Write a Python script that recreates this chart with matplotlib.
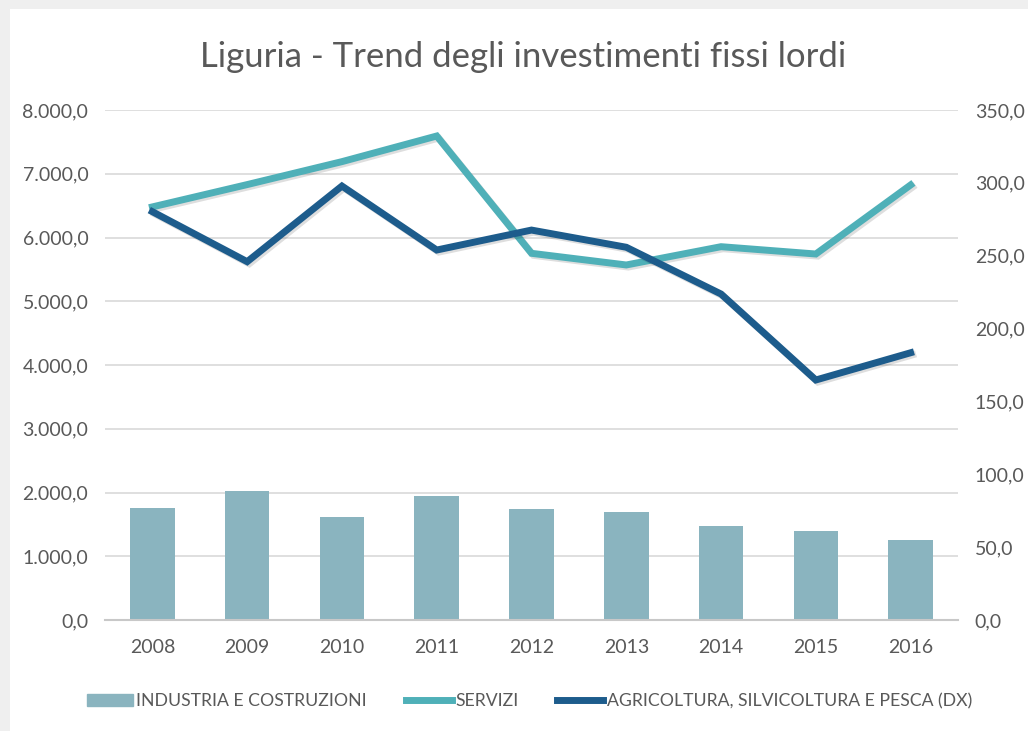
import numpy as np
import matplotlib.pyplot as plt
import matplotlib.patheffects as pe
from matplotlib.patches import Rectangle
from matplotlib.lines import Line2D
from matplotlib.ticker import FuncFormatter

plt.rcParams['font.family'] = ['Lato', 'DejaVu Sans']

# dati
anni = ['2008', '2009', '2010', '2011', '2012', '2013', '2014', '2015', '2016']
industria = [1762, 2028, 1611, 1950, 1736, 1689, 1469, 1396, 1255]
servizi = [6480, 6830, 7190, 7592, 5752, 5569, 5856, 5741, 6824]
agricoltura = [280.2, 245.9, 297.8, 253.9, 267.6, 255.8, 223.7, 164.7, 183.4]

col_bar = '#8AB4BF'
col_serv = '#4FB0B8'
col_agri = '#1D5C8C'
col_txt = '#595959'
col_grid = '#D9D9D9'


def fmt_it(v, pos=None):
    # 8000 -> "8.000,0"
    s = f"{v:,.1f}"
    return s.replace(',', 'X').replace('.', ',').replace('X', '.')


fig = plt.figure(figsize=(10.28, 7.31), dpi=100)
fig.patch.set_facecolor('#EFEFEF')
# pannello bianco del grafico
fig.patches.append(Rectangle((10 / 1028, 0), 1, 1 - 9 / 731,
                             transform=fig.transFigure, facecolor='white',
                             edgecolor='none', zorder=-10))

ax = fig.add_axes([105 / 1028, 1 - 620 / 731, (958 - 105) / 1028, 510 / 731])
ax.set_facecolor('none')
x = np.arange(len(anni))

ax.bar(x, industria, width=0.47, color=col_bar, zorder=2)
shadow = [pe.SimpleLineShadow(offset=(1.5, -1.5), alpha=0.13), pe.Normal()]
ax.plot(x, servizi, color=col_serv, lw=5, solid_joinstyle='miter',
        zorder=3, path_effects=shadow)

ax.set_xlim(-0.5, len(anni) - 0.5)
ax.set_ylim(0, 8000)
ax.set_yticks(np.arange(0, 8001, 1000))
ax.yaxis.set_major_formatter(FuncFormatter(fmt_it))
ax.set_xticks(x)
ax.set_xticklabels(anni)
ax.grid(axis='y', color=col_grid, lw=1.2, zorder=0)
ax.set_axisbelow(True)
for s in ['top', 'right', 'left']:
    ax.spines[s].set_visible(False)
ax.spines['bottom'].set_color('#C8C8C8')
ax.spines['bottom'].set_linewidth(1.5)
ax.tick_params(axis='both', length=0, colors=col_txt, labelsize=14)
ax.tick_params(axis='y', pad=12)
ax.tick_params(axis='x', pad=14)

ax2 = ax.twinx()
ax2.plot(x, agricoltura, color=col_agri, lw=5, solid_joinstyle='miter',
         zorder=4, path_effects=shadow)
ax2.set_ylim(0, 350)
ax2.set_yticks(np.arange(0, 351, 50))
ax2.yaxis.set_major_formatter(FuncFormatter(fmt_it))
for s in ax2.spines.values():
    s.set_visible(False)
ax2.tick_params(axis='y', length=0, colors=col_txt, labelsize=14, pad=12)

fig.text(0.509, 1 - 57 / 731, 'Liguria - Trend degli investimenti fissi lordi',
         ha='center', va='center', fontsize=25, color=col_txt)

handles = [Rectangle((0, 0), 1, 1, color=col_bar),
           Line2D([], [], color=col_serv, lw=5),
           Line2D([], [], color=col_agri, lw=5)]
labels = ['INDUSTRIA E COSTRUZIONI', 'SERVIZI',
          'AGRICOLTURA, SILVICOLTURA E PESCA (DX)']
leg = fig.legend(handles, labels, loc='center', ncol=3,
                 bbox_to_anchor=(0.515, 1 - 701 / 731), frameon=False,
                 fontsize=12.7, handlelength=2.6, handletextpad=0.2,
                 columnspacing=2.2, labelcolor=col_txt)

fig.savefig('out.png', dpi=100)
